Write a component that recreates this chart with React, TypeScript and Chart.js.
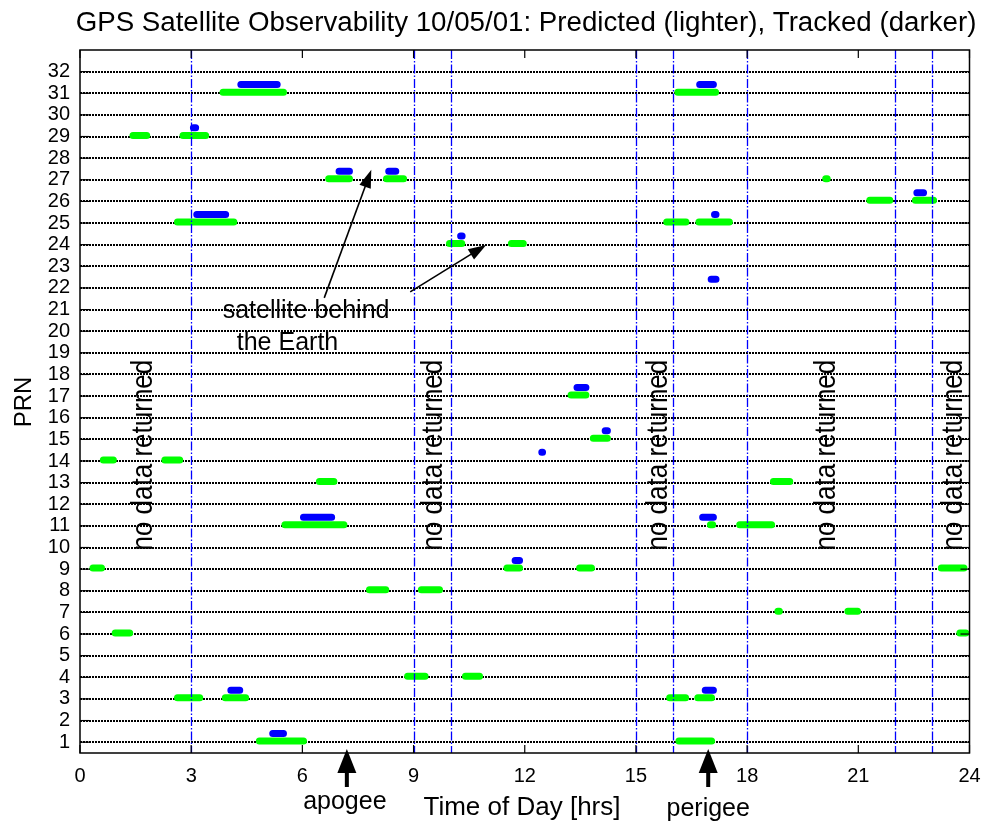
import React, { useEffect, useRef } from 'react';
import { Chart, registerables } from 'chart.js';

Chart.register(...registerables);

// ---------- text ----------
const TITLE = 'GPS Satellite Observability 10/05/01: Predicted (lighter), Tracked (darker)';
const X_LABEL = 'Time of Day [hrs]';
const Y_LABEL = 'PRN';
const NO_DATA_TEXT = 'no data returned';
const BEHIND_LINE1 = 'satellite behind';
const BEHIND_LINE2 = 'the Earth';
const APOGEE_TEXT = 'apogee';
const PERIGEE_TEXT = 'perigee';

// ---------- ticks ----------
const prnTicks = [1, 2, 3, 4, 5, 6, 7, 8, 9, 10, 11, 12, 13, 14, 15, 16, 17, 18, 19, 20, 21, 22, 23, 24, 25, 26, 27, 28, 29, 30, 31, 32];
const hourTicks = [0, 3, 6, 9, 12, 15, 18, 21, 24];

// ---------- predicted passes (green) ----------
const predictedPrn = [31, 31, 29, 29, 27, 27, 27, 26, 26, 25, 25, 25, 24, 24, 17, 15, 14, 14, 13, 13, 11, 11, 11, 9, 9, 9, 9, 8, 8, 7, 7, 6, 6, 4, 4, 3, 3, 3, 3, 1, 1];
const predictedStart = [3.86, 16.13, 1.43, 2.78, 6.71, 8.27, 20.12, 21.31, 22.54, 2.63, 15.83, 16.70, 9.97, 11.64, 13.25, 13.85, 0.63, 2.29, 6.46, 18.71, 5.53, 17.01, 17.80, 0.35, 11.52, 13.48, 23.24, 7.81, 9.21, 18.83, 20.72, 0.95, 23.74, 8.84, 10.40, 2.63, 3.92, 15.91, 16.67, 4.84, 16.16];
const predictedEnd = [5.49, 17.15, 1.80, 3.39, 7.27, 8.73, 20.16, 21.85, 23.03, 4.15, 16.35, 17.52, 10.30, 11.96, 13.65, 14.23, 0.90, 2.69, 6.85, 19.15, 7.12, 17.07, 18.66, 0.58, 11.86, 13.80, 23.85, 8.25, 9.70, 18.87, 20.98, 1.34, 23.90, 9.31, 10.78, 3.23, 4.47, 16.34, 17.04, 6.03, 17.04];

// ---------- tracked passes (blue) ----------
const trackedPrn = [31, 31, 29, 27, 27, 26, 25, 25, 24, 22, 17, 15, 14, 11, 11, 9, 3, 3, 1];
const trackedStart = [4.34, 16.72, 3.06, 6.99, 8.33, 22.58, 3.15, 17.12, 10.27, 17.03, 13.41, 14.17, 12.46, 6.03, 16.80, 11.74, 4.07, 16.87, 5.20];
const trackedEnd = [5.32, 17.09, 3.12, 7.27, 8.52, 22.76, 3.93, 17.16, 10.31, 17.16, 13.65, 14.23, 12.48, 6.79, 17.09, 11.86, 4.31, 17.09, 5.49];

// ---------- annotations ----------
const outageLineHours = [3, 9, 10, 15, 16, 18, 22, 23];
const noDataLabelHours = [1.94, 9.77, 15.84, 20.38, 23.79];
const noDataLabelPrn = 14.27;
const apogeeHour = 7.2;
const perigeeHour = 16.95;
// arrows pointing at the "behind the Earth" passes
const behindArrowFromHour = [6.59, 8.91];
const behindArrowFromPrn = [21.54, 21.82];
const behindArrowToHour = [7.86, 10.96];
const behindArrowToPrn = [27.46, 23.99];
const behindTextHour = [3.85, 4.23];
const behindTextPrn = [20.62, 19.14];

const PREDICTED_OFFSET = 0.05;
const TRACKED_OFFSET = 0.4;
const FONT = '"Liberation Sans", Arial, Helvetica, sans-serif';

function buildSegments(prn: number[], start: number[], end: number[], off: number) {
  const pts: { x: number; y: number | null }[] = [];
  prn.forEach((p, i) => {
    pts.push({ x: start[i], y: p + off });
    pts.push({ x: end[i], y: p + off });
    pts.push({ x: end[i], y: null });
  });
  return pts;
}

function arrowHead(ctx: CanvasRenderingContext2D, x0: number, y0: number, x1: number, y1: number, len: number, half: number) {
  const ang = Math.atan2(y1 - y0, x1 - x0);
  const bx = x1 - len * Math.cos(ang);
  const by = y1 - len * Math.sin(ang);
  const nx = -Math.sin(ang);
  const ny = Math.cos(ang);
  ctx.beginPath();
  ctx.moveTo(x1, y1);
  ctx.lineTo(bx + nx * half, by + ny * half);
  ctx.lineTo(bx - nx * half, by - ny * half);
  ctx.closePath();
  ctx.fill();
}

const overlayPlugin = {
  id: 'overlay',
  afterDatasetsDraw(chart: any) {
    const { ctx, chartArea: a, scales } = chart;
    const x = scales.x;
    ctx.save();
    ctx.strokeStyle = '#0000ff';
    ctx.lineWidth = 1.3;
    ctx.setLineDash([9, 2, 1.5, 2]);
    outageLineHours.forEach((h) => {
      const px = Math.round(x.getPixelForValue(h)) + 0.5;
      ctx.beginPath();
      ctx.moveTo(px, a.top);
      ctx.lineTo(px, a.bottom);
      ctx.stroke();
    });
    ctx.restore();
  },
  afterDraw(chart: any) {
    const { ctx, chartArea: a, scales } = chart;
    const x = scales.x;
    const y = scales.y;
    ctx.save();
    ctx.setLineDash([]);
    ctx.strokeStyle = '#000';
    ctx.fillStyle = '#000';

    // frame
    ctx.lineWidth = 1.5;
    ctx.strokeRect(a.left, a.top, a.right - a.left, a.bottom - a.top);

    // inward ticks
    ctx.lineWidth = 1.2;
    const seg = (x0: number, y0: number, x1: number, y1: number) => {
      ctx.beginPath();
      ctx.moveTo(x0, y0);
      ctx.lineTo(x1, y1);
      ctx.stroke();
    };
    hourTicks.forEach((h) => {
      const px = x.getPixelForValue(h);
      seg(px, a.bottom, px, a.bottom - 8);
      seg(px, a.top, px, a.top + 8);
    });
    prnTicks.forEach((p) => {
      const py = y.getPixelForValue(p);
      seg(a.left, py, a.left + 9, py);
      seg(a.right, py, a.right - 9, py);
    });

    // title
    ctx.font = `27.7px ${FONT}`;
    ctx.textAlign = 'center';
    ctx.textBaseline = 'alphabetic';
    ctx.fillText(TITLE, 526, 31);

    // x label
    ctx.font = `26px ${FONT}`;
    ctx.fillText(X_LABEL, 522, 815);

    // y label
    ctx.save();
    ctx.translate(31, 402);
    ctx.rotate(-Math.PI / 2);
    ctx.font = `24px ${FONT}`;
    ctx.fillText(Y_LABEL, 0, 0);
    ctx.restore();

    // no data returned labels
    ctx.font = `26px ${FONT}`;
    noDataLabelHours.forEach((h) => {
      ctx.save();
      ctx.translate(x.getPixelForValue(h), y.getPixelForValue(noDataLabelPrn));
      ctx.rotate(-Math.PI / 2);
      ctx.scale(1, 1.15);
      ctx.textAlign = 'center';
      ctx.fillText(NO_DATA_TEXT, 0, 0);
      ctx.restore();
    });

    // satellite behind the Earth
    ctx.font = `25px ${FONT}`;
    ctx.textAlign = 'left';
    ctx.fillText(BEHIND_LINE1, x.getPixelForValue(behindTextHour[0]), y.getPixelForValue(behindTextPrn[0]));
    ctx.fillText(BEHIND_LINE2, x.getPixelForValue(behindTextHour[1]), y.getPixelForValue(behindTextPrn[1]));
    ctx.lineWidth = 1.6;
    behindArrowFromHour.forEach((h, i) => {
      const x0 = x.getPixelForValue(h);
      const y0 = y.getPixelForValue(behindArrowFromPrn[i]);
      const x1 = x.getPixelForValue(behindArrowToHour[i]);
      const y1 = y.getPixelForValue(behindArrowToPrn[i]);
      const ang = Math.atan2(y1 - y0, x1 - x0);
      seg(x0, y0, x1 - 10 * Math.cos(ang), y1 - 10 * Math.sin(ang));
      arrowHead(ctx, x0, y0, x1, y1, 18, 6);
    });

    // apogee / perigee arrows
    ctx.font = `25px ${FONT}`;
    ctx.textAlign = 'center';
    const drawUpArrow = (h: number) => {
      const cx = x.getPixelForValue(h);
      ctx.beginPath();
      ctx.moveTo(cx, a.bottom - 4);
      ctx.lineTo(cx + 9.5, a.bottom + 20);
      ctx.lineTo(cx - 9.5, a.bottom + 20);
      ctx.closePath();
      ctx.fill();
      ctx.fillRect(cx - 2, a.bottom + 19, 4, 15);
    };
    drawUpArrow(apogeeHour);
    drawUpArrow(perigeeHour);
    ctx.fillText(APOGEE_TEXT, x.getPixelForValue(apogeeHour) - 2, 809);
    ctx.fillText(PERIGEE_TEXT, x.getPixelForValue(perigeeHour), 816);

    ctx.restore();
  },
};

export default function App() {
  const canvasRef = useRef<HTMLCanvasElement | null>(null);

  useEffect(() => {
    const canvas = canvasRef.current;
    if (!canvas) return;
    const chart = new Chart(canvas, {
      type: 'line',
      data: {
        datasets: [
          {
            label: 'Predicted',
            data: buildSegments(predictedPrn, predictedStart, predictedEnd, PREDICTED_OFFSET) as any,
            borderColor: '#00ff00',
            backgroundColor: '#00ff00',
            borderWidth: 7,
            borderCapStyle: 'round',
            borderJoinStyle: 'round',
            pointRadius: 0,
            spanGaps: false,
            tension: 0,
          },
          {
            label: 'Tracked',
            data: buildSegments(trackedPrn, trackedStart, trackedEnd, TRACKED_OFFSET) as any,
            borderColor: '#0000ff',
            backgroundColor: '#0000ff',
            borderWidth: 7,
            borderCapStyle: 'round',
            borderJoinStyle: 'round',
            pointRadius: 0,
            spanGaps: false,
            tension: 0,
          },
        ],
      },
      options: {
        responsive: false,
        animation: false,
        devicePixelRatio: 1,
        layout: { padding: { top: 50, right: 15.5, left: 0, bottom: 0 } },
        plugins: {
          legend: { display: false },
          tooltip: { enabled: false },
          title: { display: false },
        },
        scales: {
          x: {
            type: 'linear',
            min: 0,
            max: 24,
            afterFit: (s: any) => {
              s.height = 70;
            },
            afterBuildTicks: (s: any) => {
              s.ticks = hourTicks.map((v) => ({ value: v }));
            },
            grid: { display: false, drawTicks: false },
            border: { display: false },
            ticks: {
              color: '#000',
              padding: 0,
              maxRotation: 0,
              autoSkip: false,
              font: { family: FONT, size: 20, lineHeight: 2.3 },
            },
          },
          y: {
            type: 'linear',
            min: 0.5,
            max: 33,
            afterFit: (s: any) => {
              s.width = 80;
            },
            afterBuildTicks: (s: any) => {
              s.ticks = prnTicks.map((v) => ({ value: v }));
            },
            grid: { display: true, drawTicks: false, color: '#000', lineWidth: 2 },
            border: { display: false, dash: [2, 1] },
            ticks: {
              color: '#000',
              padding: 10,
              autoSkip: false,
              font: { family: FONT, size: 20 },
            },
          },
        },
      },
      plugins: [overlayPlugin],
    } as any);
    return () => chart.destroy();
  }, []);

  return (
    <div style={{ position: 'absolute', left: 0, top: 0, width: 985, height: 823, background: '#fff' }}>
      <canvas ref={canvasRef} width={985} height={823} style={{ display: 'block' }} />
    </div>
  );
}
